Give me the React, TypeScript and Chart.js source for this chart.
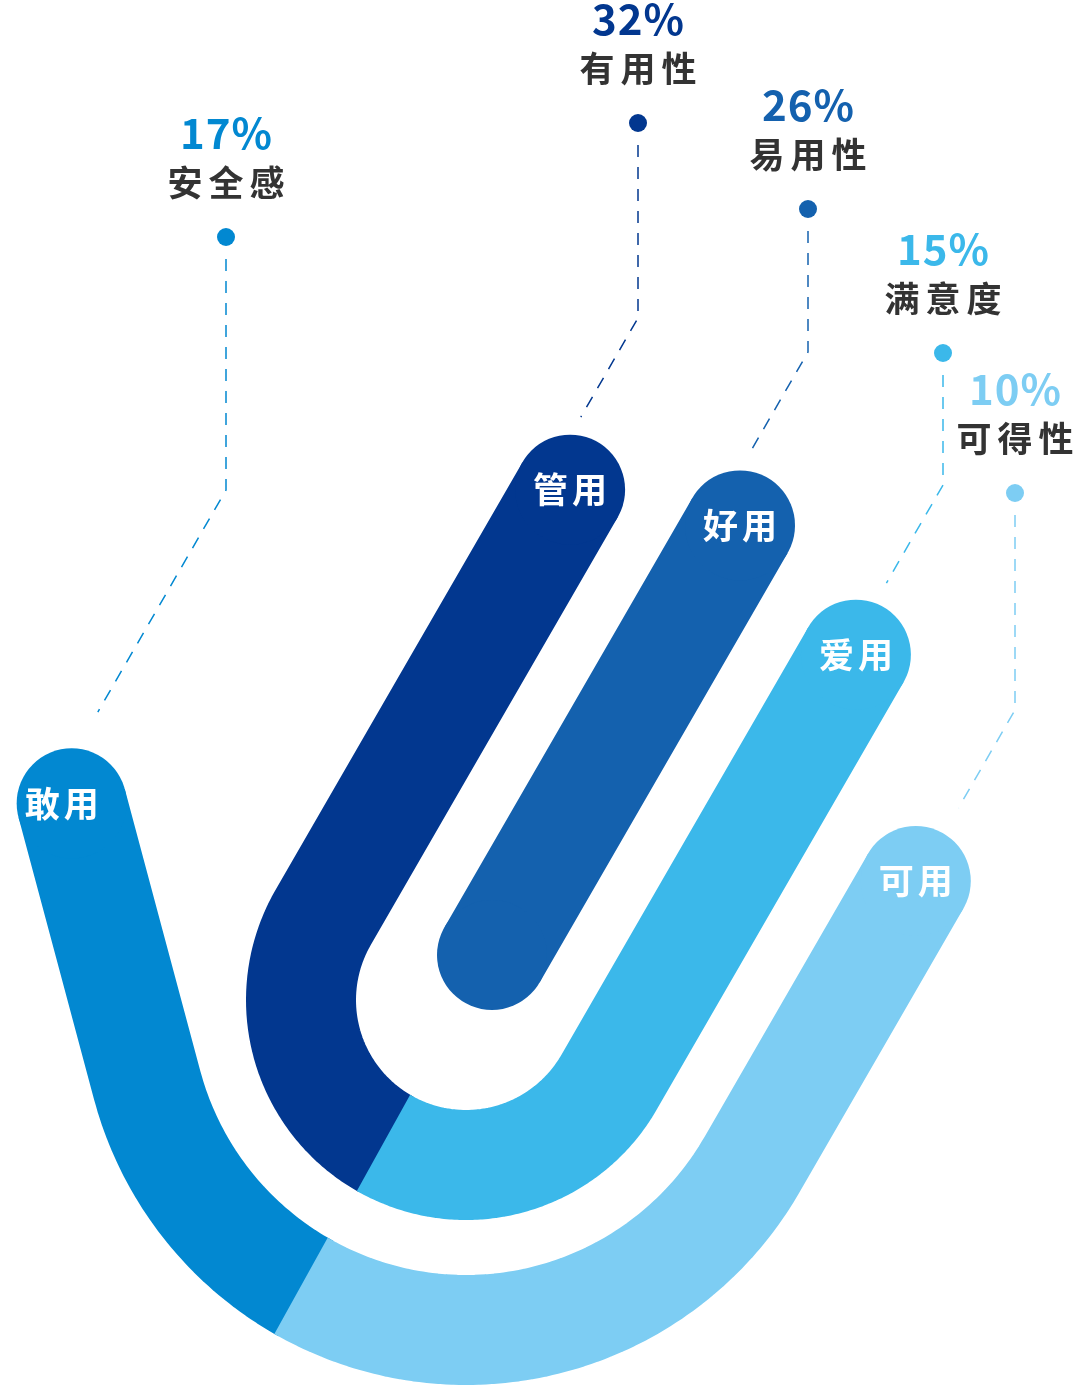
import React, { useEffect, useRef } from 'react'
import Chart, { ChartConfiguration, Plugin } from 'chart.js/auto'

// 指标与数值
const metricLabels = ['安全感', '有用性', '易用性', '满意度', '可得性']
const metricShares = [17, 32, 26, 15, 10]
const bandLabels = ['敢用', '管用', '好用', '爱用', '可用']
const bandColors = ['#0288D1', '#02378F', '#1461AE', '#3BB8EA', '#7DCDF3']

// layout, in pixel space of the canvas (x 0..1080, y 0..1388)
const W = 1080
const H = 1388
const CX = 466
const CY = 1000
const INNER_R = 165
const OUTER_R = 330
const BAND_W = 110
const CUT_DEG = 120

const dotX = [226, 638, 808, 943, 1015]
const dotY = [237, 123, 209, 353, 493]
const leaderBendY = [490, 318, 352, 485, 710]
const leaderDrop = [222, 99, 100, 98, 98]
const bandLabelDx = [-8, 2, 2, 2, 2]

type Pt = { x: number; y: number }

const rad = (d: number) => (d * Math.PI) / 180
const onCircle = (r: number, deg: number): Pt => ({
  x: CX + r * Math.cos(rad(deg)),
  y: CY + r * Math.sin(rad(deg)),
})
const arc = (r: number, from: number, to: number): Pt[] => {
  const n = Math.ceil(Math.abs(to - from) / 2)
  const pts: Pt[] = []
  for (let i = 0; i <= n; i++) pts.push(onCircle(r, from + ((to - from) * i) / n))
  return pts
}
// straight leg meeting the arc at angle deg (arc walked with decreasing angle)
const legBefore = (r: number, deg: number, len: number): Pt => {
  const p = onCircle(r, deg)
  return { x: p.x - len * Math.sin(rad(deg)), y: p.y + len * Math.cos(rad(deg)) }
}
const legAfter = (r: number, deg: number, len: number): Pt => {
  const p = onCircle(r, deg)
  return { x: p.x + len * Math.sin(rad(deg)), y: p.y - len * Math.cos(rad(deg)) }
}

const bandPaths: Pt[][] = [
  [legBefore(OUTER_R, 165, 292), ...arc(OUTER_R, 165, CUT_DEG - 1)],
  [legBefore(INNER_R, 210, 494), ...arc(INNER_R, 210, CUT_DEG - 1)],
  [onCircle(548, 300), onCircle(52, 300)],
  [...arc(INNER_R, CUT_DEG, 30), legAfter(INNER_R, 30, 494)],
  [...arc(OUTER_R, CUT_DEG, 30), legAfter(OUTER_R, 30, 328)],
]
// which ends get a round cap (-1 = last point)
const bandCaps: number[][] = [[0], [0], [0, 1], [-1], [-1]]
const bandOrder = [5, 5, 4, 4, 4]

const labelFont = '"Noto Sans CJK SC", "Noto Sans", sans-serif'

const textPlugin: Plugin = {
  id: 'infoText',
  afterDatasetsDraw: (chart) => {
    const ctx = chart.ctx
    const xs = chart.scales.x
    const ys = chart.scales.y
    ctx.save()
    ctx.textAlign = 'center'

    metricLabels.forEach((label, i) => {
      const x = xs.getPixelForValue(dotX[i])
      const y = ys.getPixelForValue(dotY[i])

      ctx.fillStyle = bandColors[i]
      ctx.font = `bold 42px ${labelFont}`
      ctx.textBaseline = 'alphabetic'
      ;(ctx as any).letterSpacing = '1px'
      ctx.fillText(`${metricShares[i]}%`, x + 0.5, y - 88)

      ctx.fillStyle = '#333333'
      ctx.font = `bold 35px ${labelFont}`
      ctx.textBaseline = 'middle'
      ;(ctx as any).letterSpacing = '6px'
      ctx.fillText(label, x + 3, y - 54)
    })

    bandLabels.forEach((label, i) => {
      const path = bandPaths[i]
      const cap = bandCaps[i][0] === 0 ? path[0] : path[path.length - 1]
      ctx.fillStyle = '#ffffff'
      ctx.font = `bold 35px ${labelFont}`
      ctx.textBaseline = 'middle'
      ;(ctx as any).letterSpacing = '4px'
      ctx.fillText(label, xs.getPixelForValue(cap.x) + bandLabelDx[i], ys.getPixelForValue(cap.y))
    })
    ctx.restore()
  },
}

const App: React.FC = () => {
  const canvasRef = useRef<HTMLCanvasElement | null>(null)
  const chartRef = useRef<Chart | null>(null)

  useEffect(() => {
    if (!canvasRef.current) return
    const ctx = canvasRef.current.getContext('2d')
    if (!ctx) return

    const bandSets = bandPaths.map((path, i) => ({
      label: bandLabels[i],
      data: path,
      showLine: true,
      borderColor: bandColors[i],
      backgroundColor: bandColors[i],
      borderWidth: BAND_W,
      borderCapStyle: 'butt' as const,
      borderJoinStyle: 'round' as const,
      // tiny tension keeps chart.js off its per-pixel "fast path"
      tension: 0.0001,
      pointRadius: (c: any) => {
        const last = path.length - 1
        return bandCaps[i].some((k) => (k < 0 ? last : k) === c.dataIndex) ? BAND_W / 2 : 0
      },
      pointBackgroundColor: bandColors[i],
      pointBorderWidth: 0,
      order: bandOrder[i],
      clip: false as const,
    }))

    const leaderSets = metricLabels.map((label, i) => {
      const endY = leaderBendY[i] + leaderDrop[i]
      const endX = dotX[i] - leaderDrop[i] * Math.tan(rad(30))
      return {
        label: `${label}-line`,
        data: [
          { x: dotX[i], y: dotY[i] + 22 },
          { x: dotX[i], y: leaderBendY[i] },
          { x: endX, y: endY },
        ],
        showLine: true,
        borderColor: bandColors[i],
        borderWidth: 1.5,
        borderDash: [12, 10],
        tension: 0,
        pointRadius: 0,
        order: 1,
      }
    })

    const dotSet = {
      label: 'dots',
      data: metricLabels.map((_, i) => ({ x: dotX[i], y: dotY[i] })),
      showLine: false,
      pointRadius: 9,
      pointBackgroundColor: bandColors,
      pointBorderWidth: 0,
      order: 0,
    }

    const config = {
      type: 'scatter',
      data: { datasets: [...bandSets, ...leaderSets, dotSet] },
      options: {
        responsive: true,
        maintainAspectRatio: false,
        animation: false,
        events: [],
        layout: { padding: 0, autoPadding: false },
        plugins: { legend: { display: false }, tooltip: { enabled: false } },
        scales: {
          x: { type: 'linear', min: 0, max: W, display: false },
          y: { type: 'linear', min: 0, max: H, reverse: true, display: false },
        },
      },
      plugins: [textPlugin],
    } as unknown as ChartConfiguration<'scatter'>

    chartRef.current = new Chart(ctx, config)

    return () => {
      if (chartRef.current) {
        chartRef.current.destroy()
        chartRef.current = null
      }
    }
  }, [])

  return (
    <div style={{ position: 'absolute', left: 0, top: 0, width: W, height: H, background: '#ffffff' }}>
      <canvas ref={canvasRef}></canvas>
    </div>
  )
}

export default App
